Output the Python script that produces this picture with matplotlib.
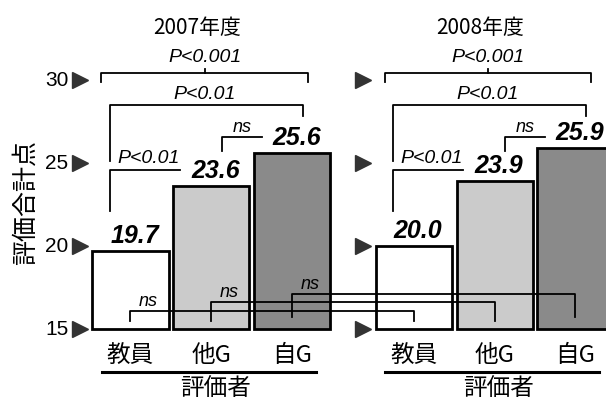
import matplotlib
matplotlib.use("Agg")
import matplotlib.pyplot as plt

# data
years = ["2007年度", "2008年度"]
raters = ["教員", "他G", "自G"]
scores_2007 = [19.7, 23.6, 25.6]
scores_2008 = [20.0, 23.9, 25.9]
yticks = [15, 20, 25, 30]
pair_labels = ["P<0.001", "P<0.01", "P<0.01", "ns"]
cross_labels = ["ns", "ns", "ns"]

colors = ["white", "#cbcbcb", "#8a8a8a"]
jp = ["Noto Sans CJK JP", "DejaVu Sans"]
num = "Liberation Sans"

fig = plt.figure(figsize=(6.06, 4.02), dpi=100)
ax = fig.add_axes([0, 0, 1, 1])
ax.set_xlim(-1.613, 5.878)
ax.set_ylim(10.66, 34.88)
ax.axis("off")

offsets = [0.0, 3.5]
groups = [scores_2007, scores_2008]
lw = 1.3

for g, (off, vals) in enumerate(zip(offsets, groups)):
    xs = [off + i for i in range(3)]
    ax.bar(xs, [v - 15 for v in vals], bottom=15, width=0.94,
           color=colors, edgecolor="black", linewidth=2.0, zorder=2)
    for x, v in zip(xs, vals):
        ax.text(x + 0.05, v + 0.25, f"{v:.1f}", ha="center", va="bottom",
                fontsize=18, fontweight="bold", style="italic", family=num, zorder=4)
    # y tick triangles
    tx = off - 0.62
    ax.plot([tx] * len(yticks), yticks, marker=">", ls="none", ms=11,
            color="#333333", clip_on=False)
    if g == 0:
        for t in yticks:
            ax.text(tx - 0.15, t, str(t), ha="right", va="center", fontsize=15, family=num)
    # title
    ax.text(off + 0.82, 33.2, years[g], ha="center", va="center", fontsize=15, family=jp)
    # x labels
    for x, r in zip(xs, raters):
        ax.text(x, 13.45, r, ha="center", va="center", fontsize=17, family=jp)
    ax.plot([off - 0.35, off + 2.29], [12.43, 12.43], color="black", lw=2.2, clip_on=False)
    ax.text(off + 1.05, 11.5, "評価者", ha="center", va="center", fontsize=17, family=jp)

    # brackets
    # P<0.001 brace
    x0, x1, yb = off - 0.36, off + 2.19, 30.42
    ax.plot([x0, x0, x1, x1], [29.88, yb, yb, 29.88], color="black", lw=lw)
    ax.plot([off + 0.92, off + 0.92], [yb, yb + 0.25], color="black", lw=lw)
    ax.text(off + 0.92, 31.39, pair_labels[0], ha="center", va="center",
            fontsize=14, style="italic", family=num)
    # outer P<0.01
    x0, x1, yb = off - 0.25, off + 2.13, 28.49
    ax.plot([x0, x0, x1, x1], [25.12, yb, yb, 27.83], color="black", lw=lw)
    ax.text(off + 0.92, 29.16, pair_labels[1], ha="center", va="center",
            fontsize=14, style="italic", family=num)
    # inner P<0.01
    yb = 24.58
    ax.plot([off + 0.61, x0, x0], [yb, yb, 22.1], color="black", lw=lw)
    ax.text(off + 0.22, 25.36, pair_labels[2], ha="center", va="center",
            fontsize=14, style="italic", family=num)
    # ns between other and self
    yb = 26.57
    ax.plot([off + 1.13, off + 1.13, off + 1.63], [25.72, yb, yb], color="black", lw=lw)
    ax.text(off + 1.38, 27.17, pair_labels[3], ha="center", va="center",
            fontsize=13, style="italic", family=num)

# cross-year comparisons
cross_y = [16.08, 16.63, 17.1]
cross_bot = [15.48, 15.48, 15.72]
for i in range(3):
    a, b = offsets[0] + i, offsets[1] + i
    ax.plot([a, a, b, b], [cross_bot[i], cross_y[i], cross_y[i], cross_bot[i]],
            color="black", lw=lw, zorder=3)
    ax.text(a + 0.22, cross_y[i] + 0.62, cross_labels[i], ha="center", va="center",
            fontsize=13, style="italic", family=num, zorder=4)

# y axis label
ax.text(-1.3, 22.7, "評価合計点", rotation=90, ha="center", va="center",
        fontsize=18, family=jp)

fig.savefig("out.png", dpi=100)
